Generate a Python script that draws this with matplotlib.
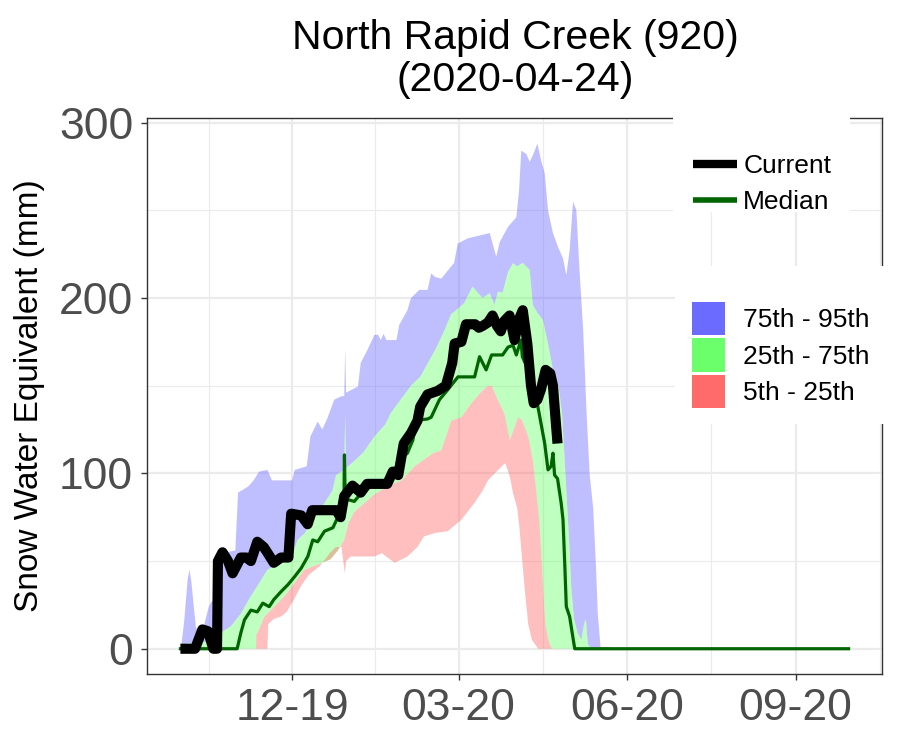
import numpy as np
import matplotlib
matplotlib.use("Agg")
import matplotlib.pyplot as plt
from matplotlib.lines import Line2D
from matplotlib.patches import Patch, Rectangle

# x values: days since 2019-10-01, y values: snow water equivalent (mm)
current_day = [0, 8, 12, 15, 18, 20, 20.5, 23, 26, 28.5, 31, 33, 36, 38.5, 42, 45.5, 48,
               51, 55, 59, 60.5, 66, 69.5, 72, 85, 87.5, 89.5, 94, 98.5, 102, 113, 116,
               119, 122, 126, 129.5, 131, 135, 140.5, 145, 148.5, 149.8, 153.5, 156, 161,
               163, 165, 168, 170.5, 173, 175, 177, 179.8, 182.5, 185, 187, 189.5, 191.5,
               193, 195, 197, 199.5, 202, 203.5, 205, 206]
current_swe = [0, 0, 11, 10, 0, 0, 50, 55, 50, 43, 48, 52, 52, 50, 61, 58, 54,
               49, 52, 52, 77, 76, 71, 79, 79, 75, 87, 93, 89, 94, 94, 101,
               99, 117, 123, 130, 138, 145, 147, 150, 163, 174, 175, 185, 185,
               183, 184, 186, 190, 184, 181, 187, 190, 176, 188, 193, 174, 150,
               140, 142, 148, 159, 157, 150, 130, 117]

median_day = [0, 31, 33, 35, 38.5, 42, 45, 48.5, 51, 55, 58.7, 62.3, 66, 69.6, 72.3, 75,
              78.7, 83.3, 86, 89.3, 89.6, 90, 91.5, 95, 99, 106, 113, 115, 117, 120, 124,
              127, 128, 131.5, 135, 137, 141.5, 146, 151.6, 160.7, 163.4, 167, 170, 176,
              179, 181.7, 183.5, 186, 186.8, 190.8, 193.5, 196, 199, 200.8, 202.5, 203.5,
              204.4, 206, 208, 209, 210, 210.8, 212.6, 215.4, 365]
median_swe = [0, 0, 9, 16.5, 22, 21, 26, 24, 28, 32.6, 36.5, 41, 46, 52.6, 62, 61,
              67, 69, 75, 79, 110.5, 87, 85, 84, 89, 94, 95.8, 98, 102, 108, 111.5,
              119, 125, 130.5, 131, 132, 142, 147.6, 155, 155, 166.5, 159, 167.5, 167.5,
              172, 173, 167.5, 176, 166.5, 157, 147.6, 134, 117, 102, 104, 111.5,
              99, 97, 83, 73.5, 47, 24, 18.4, 0, 0]

p95_day = [0, 0.5, 2, 4, 5, 6, 7.5, 8.5, 10, 12, 14, 15.5, 17, 19.5, 20, 25, 30, 31.5,
           37, 40, 43, 47.5, 50, 61, 62.5, 69, 71, 75, 77.5, 80.5, 84, 88, 89.5, 90,
           90.5, 97, 98.5, 102, 106, 108, 109.5, 111, 112.5, 118, 119.5, 124, 126,
           130.5, 135, 137, 139, 142.5, 149.5, 151.5, 157, 169, 172.5, 174.5, 179,
           183.5, 185, 186.2, 189, 190.8, 192.8, 195, 197, 199, 200.8, 203.5, 206.3,
           209, 210.8, 212.6, 214.5, 216.3, 218, 220, 221.8, 223.5, 225.5, 227, 228,
           229.5, 234, 235, 365]
p95_swe = [0, 2, 15, 40, 45, 38, 22, 12, 10, 9, 18, 24, 27, 27, 50, 55, 56, 89,
           92.5, 96, 101, 102, 96, 96, 102, 104, 121, 129.5, 125, 132, 142, 144, 144, 171,
           146, 149.5, 163, 170, 179, 179, 176, 179.5, 176, 176, 184.6, 193, 200,
           204.6, 204.6, 214, 212, 211, 220, 231, 234, 237, 223.5, 232, 240.6,
           246, 261.5, 284, 282, 277.6, 282, 288, 278.6, 271, 250, 237, 229,
           222.6, 213, 227, 255, 250, 216, 182, 136, 100, 80, 47, 20,
           1, 1, 0, 0]

p75_day = [0, 1, 3, 10, 18, 22, 27.5, 33, 38.5, 44, 47.5, 53, 57, 62, 64, 68, 73, 78,
           83, 85, 89.5, 90, 90.5, 95, 100, 106, 112, 115, 121, 126, 131, 140, 144,
           148, 149.5, 155, 159.5, 165, 169, 171.5, 173.5, 176, 179, 181.7, 184, 187,
           190.8, 192.5, 195.3, 198, 200.8, 203.5, 205, 206.5, 208.5, 210.5, 212.5,
           213.5, 215, 217, 219, 220.5, 221.5, 222.5, 224, 365]
p75_swe = [0, 2, 3, 3, 5, 9, 12.7, 20, 30, 39, 45, 48, 51, 56, 62, 66, 75, 82,
           90, 99, 102, 134, 103, 107, 112, 121, 128, 134.5, 143, 150, 155, 172, 181,
           191, 192, 197, 206.5, 200, 202.7, 196, 203.6, 203, 215, 219.8, 218, 220,
           216, 196, 191, 187.5, 174, 159, 146, 150, 134, 96, 58,
           35, 17, 9, 5, 14, 17, 3, 0, 0]

p25_day = [0, 41.3, 41.5, 43, 46, 51.3, 57, 62.3, 67.7, 75, 82, 86, 89.5, 92, 95, 106,
           114, 121, 128, 138, 142.5, 148, 153.5, 159, 164, 167.5, 170, 172.5, 177,
           180, 184.5, 186.5, 190, 192.5, 194.5, 196, 197.5, 198.5, 199.5, 201.5, 203, 365]
p25_swe = [0, 0, 8, 11, 18.4, 24, 30, 37.4, 45, 48, 51, 56, 62, 72, 78, 88,
           93, 96, 104, 111.5, 113, 130, 132, 140, 146, 149.5, 150, 143.8, 134,
           119, 132, 130.5, 121, 107.7, 88.7, 73.5, 47, 28, 12.7, 3, 0, 0]

p5_day = [0, 47.5, 48, 51, 55, 58, 62, 66, 70, 76, 82, 85, 88, 89.8, 90.5, 93, 106,
          110, 117, 124, 129.5, 133, 139, 146, 153.5, 160.5, 165, 168, 175.5, 177.5,
          180, 181.7, 184, 185.3, 186.5, 188, 190, 192, 195.5, 365]
p5_swe = [0, 0, 14, 17, 18.4, 21, 28, 36, 42, 47, 55, 58, 58, 43, 50, 52.6, 52.6,
          54.5, 49, 52.6, 58, 64, 66, 67, 73.5, 83, 90, 96, 104, 105.8,
          98, 88.7, 80, 68, 53, 35, 14, 5, 0, 0]

tick_days = [61, 152, 244, 336]
tick_labels = ["12-19", "03-20", "06-20", "09-20"]
minor_days = [15.5, 106.5, 198, 290, 382]

plt.rcParams["font.family"] = ["Liberation Sans", "DejaVu Sans"]

fig = plt.figure(figsize=(9, 7.5), dpi=100)
ax = fig.add_axes([147 / 900, 1 - 674 / 750, (882 - 147) / 900, (674 - 118) / 750])


def band(lo_d, lo_v, hi_d, hi_v, color):
    xs = np.concatenate([np.asarray(hi_d, float), np.asarray(lo_d, float)[::-1]])
    ys = np.concatenate([np.asarray(hi_v, float), np.asarray(lo_v, float)[::-1]])
    ax.fill(xs, ys, color=color, alpha=0.43, lw=0, zorder=2)


blue, green, red = "#6B6BFF", "#6BFF6B", "#FF6B6B"
band(p75_day, p75_swe, p95_day, p95_swe, blue)
band(p25_day, p25_swe, p75_day, p75_swe, green)
band(p5_day, p5_swe, p25_day, p25_swe, red)

ax.plot(median_day, median_swe, color="#006400", lw=2.3, zorder=3,
        solid_joinstyle="round")
ax.plot(current_day, current_swe, color="black", lw=7.3, zorder=4,
        solid_capstyle="butt", solid_joinstyle="round")

ax.set_xlim(-18.25, 383.25)
ax.set_ylim(-14.4, 302.6)
ax.set_xticks(tick_days)
ax.set_xticklabels(tick_labels)
ax.set_xticks(minor_days, minor=True)
ax.set_yticks([0, 100, 200, 300])
ax.set_yticks([50, 150, 250], minor=True)
ax.grid(which="major", color="#EBEBEB", lw=1.6, zorder=0)
ax.grid(which="minor", color="#EBEBEB", lw=0.8, zorder=0)
ax.set_axisbelow(True)
ax.tick_params(which="major", length=4, width=1, color="#333333",
               labelsize=32, labelcolor="#4D4D4D")
ax.tick_params(axis="y", pad=6)
ax.tick_params(axis="x", pad=6)
ax.tick_params(which="minor", length=0)
for s in ax.spines.values():
    s.set_color("#333333")
    s.set_linewidth(1.0)

fig.text(515 / 900, 1 - 38 / 750, "North Rapid Creek (920)", ha="center",
         va="center", fontsize=29.5)
fig.text(515 / 900, 1 - 80 / 750, "(2020-04-24)", ha="center", va="center",
         fontsize=29.5)
fig.text(30 / 900, 1 - 396 / 750, "Snow Water Equivalent (mm)", rotation=90,
         ha="center", va="center", fontsize=24)

# white legend boxes on top of the panel
fig.patches.append(Rectangle((673 / 900, 1 - 212 / 750), 177 / 900, 104 / 750,
                             transform=fig.transFigure, facecolor="white",
                             edgecolor="none", zorder=1))
fig.patches.append(Rectangle((675 / 900, 1 - 424 / 750), 213 / 900, 158 / 750,
                             transform=fig.transFigure, facecolor="white",
                             edgecolor="none", zorder=1))

h1 = [Line2D([], [], color="black", lw=6, solid_capstyle="butt"),
      Line2D([], [], color="#006400", lw=4, solid_capstyle="butt")]
fig.legend(handles=h1, labels=["Current", "Median"], loc="center left",
           bbox_to_anchor=(693 / 900, 1 - 184 / 750), frameon=False,
           fontsize=19, handlelength=1.67, handletextpad=0.23, labelspacing=0.45,
           borderpad=0, borderaxespad=0)

h2 = [Patch(facecolor=blue, edgecolor="none"), Patch(facecolor=green, edgecolor="none"),
      Patch(facecolor=red, edgecolor="none")]
fig.legend(handles=h2, labels=["75th - 95th", "25th - 75th", "5th - 25th"],
           loc="center left", bbox_to_anchor=(692 / 900, 1 - 355 / 750),
           frameon=False, fontsize=19, handlelength=1.25, handleheight=1.55,
           handletextpad=0.68, labelspacing=0.12, borderpad=0, borderaxespad=0)

fig.savefig("out.png", dpi=100)
